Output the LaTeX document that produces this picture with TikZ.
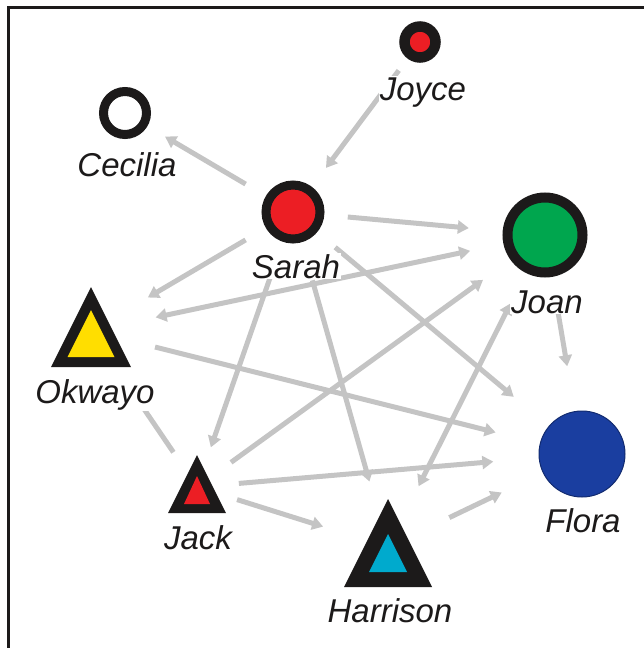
\documentclass[tikz,border=0pt]{standalone}
\usepackage{fontspec}
\setmainfont{Liberation Sans}
\usetikzlibrary{arrows.meta}
\definecolor{linkgray}{RGB}{196,196,196}
\definecolor{ringblack}{RGB}{28,26,26}
\definecolor{redfill}{RGB}{236,30,36}
\definecolor{greenfill}{RGB}{0,166,78}
\definecolor{bluefill}{RGB}{26,62,160}
\definecolor{yellowfill}{RGB}{255,222,0}
\definecolor{cyanfill}{RGB}{0,170,205}

\begin{document}
\begin{tikzpicture}[x=1pt,y=-1pt,>={Triangle[length=11pt,width=13pt]},
  person/.style={circle,draw=ringblack,inner sep=0pt},
  hub/.style={circle,inner sep=0pt,minimum size=0pt},
  person name/.style={font=\fontsize{33}{40}\selectfont\itshape,text=ringblack,
    anchor=base,fill=white,inner sep=1pt}]
  \useasboundingbox (0,0) rectangle (644,648);
  \draw[line width=3pt,ringblack] (8,648) -- (8,7) -- (644,7);

  % circles
  \node[person,minimum size=31pt,line width=10.5pt,fill=redfill,outer sep=20pt]    (Joyce)   at (420,42)  {};
  \node[person,minimum size=43pt,line width=9pt,fill=white,outer sep=25pt]         (Cecilia) at (125,113) {};
  \node[person,minimum size=54pt,line width=9pt,fill=redfill,outer sep=28pt]       (Sarah)   at (293,212) {};
  \node[person,minimum size=75pt,line width=10pt,fill=greenfill,outer sep=39pt]    (Joan)    at (545,235) {};
  \node[person,draw=bluefill!70!black,minimum size=86pt,line width=1pt,fill=bluefill,outer sep=46pt] (Flora) at (582,454) {};

  % triangles
  \node[hub,outer sep=66pt] (Okwayo)   at (91,331)  {};
  \node[hub,outer sep=42pt] (Jack)     at (197,487) {};
  \node[hub,outer sep=68pt] (Harrison) at (388,547) {};
  \fill[ringblack]  (Okwayo.center) ++(0,-44) -- ++(40,80) -- ++(-80,0) -- cycle;
  \fill[yellowfill] (Okwayo.center) ++(0,-21) -- ++(23.5,47) -- ++(-47,0) -- cycle;
  \fill[ringblack]  (Jack.center) ++(0,-32) -- ++(29,58) -- ++(-58,0) -- cycle;
  \fill[redfill]    (Jack.center) ++(0,-11) -- ++(13,28) -- ++(-26,0) -- cycle;
  \fill[ringblack]  (Harrison.center) ++(0,-48) -- ++(44,88) -- ++(-88,0) -- cycle;
  \fill[cyanfill]   (Harrison.center) ++(0,-13) -- ++(19,38) -- ++(-38,0) -- cycle;

  \path[every edge/.style={draw=linkgray,line width=5pt}]
    (Sarah) edge [->] (Cecilia)
    (Joyce) edge [->] (Sarah)
    (Sarah) edge [->] (Okwayo)
    (Okwayo) edge [<->] (Joan)
    (Sarah) edge [->] (Joan)
    (Sarah) edge [->] (Flora)
    (Sarah) edge [->,shorten <=14pt] (Jack)
    (Sarah) edge [->,shorten <=16pt] (Harrison)
    (Okwayo) edge [->] (Flora)
    (Jack) edge [->] (Joan)
    (Jack) edge [->] (Flora)
    (Jack) edge [->] (Harrison)
    (Jack) edge [->] (Okwayo)
    (Joan) edge [<->] (Harrison)
    (Joan) edge [->,shorten <=2pt] (Flora)
    (Harrison) edge [->] (Flora);

  % names
  \node[person name] (JoyceName)    at (423,100) {Joyce};
  \node[person name] (CeciliaName)  at (127,176) {Cecilia};
  \node[person name] (SarahName)    at (296,278) {Sarah};
  \node[person name] (JoanName)     at (547,313) {Joan};
  \node[person name] (OkwayoName)   at (95,403)  {Okwayo};
  \node[person name] (JackName)     at (198,549) {Jack};
  \node[person name] (HarrisonName) at (390,622) {Harrison};
  \node[person name] (FloraName)    at (583,532) {Flora};
\end{tikzpicture}
\end{document}
